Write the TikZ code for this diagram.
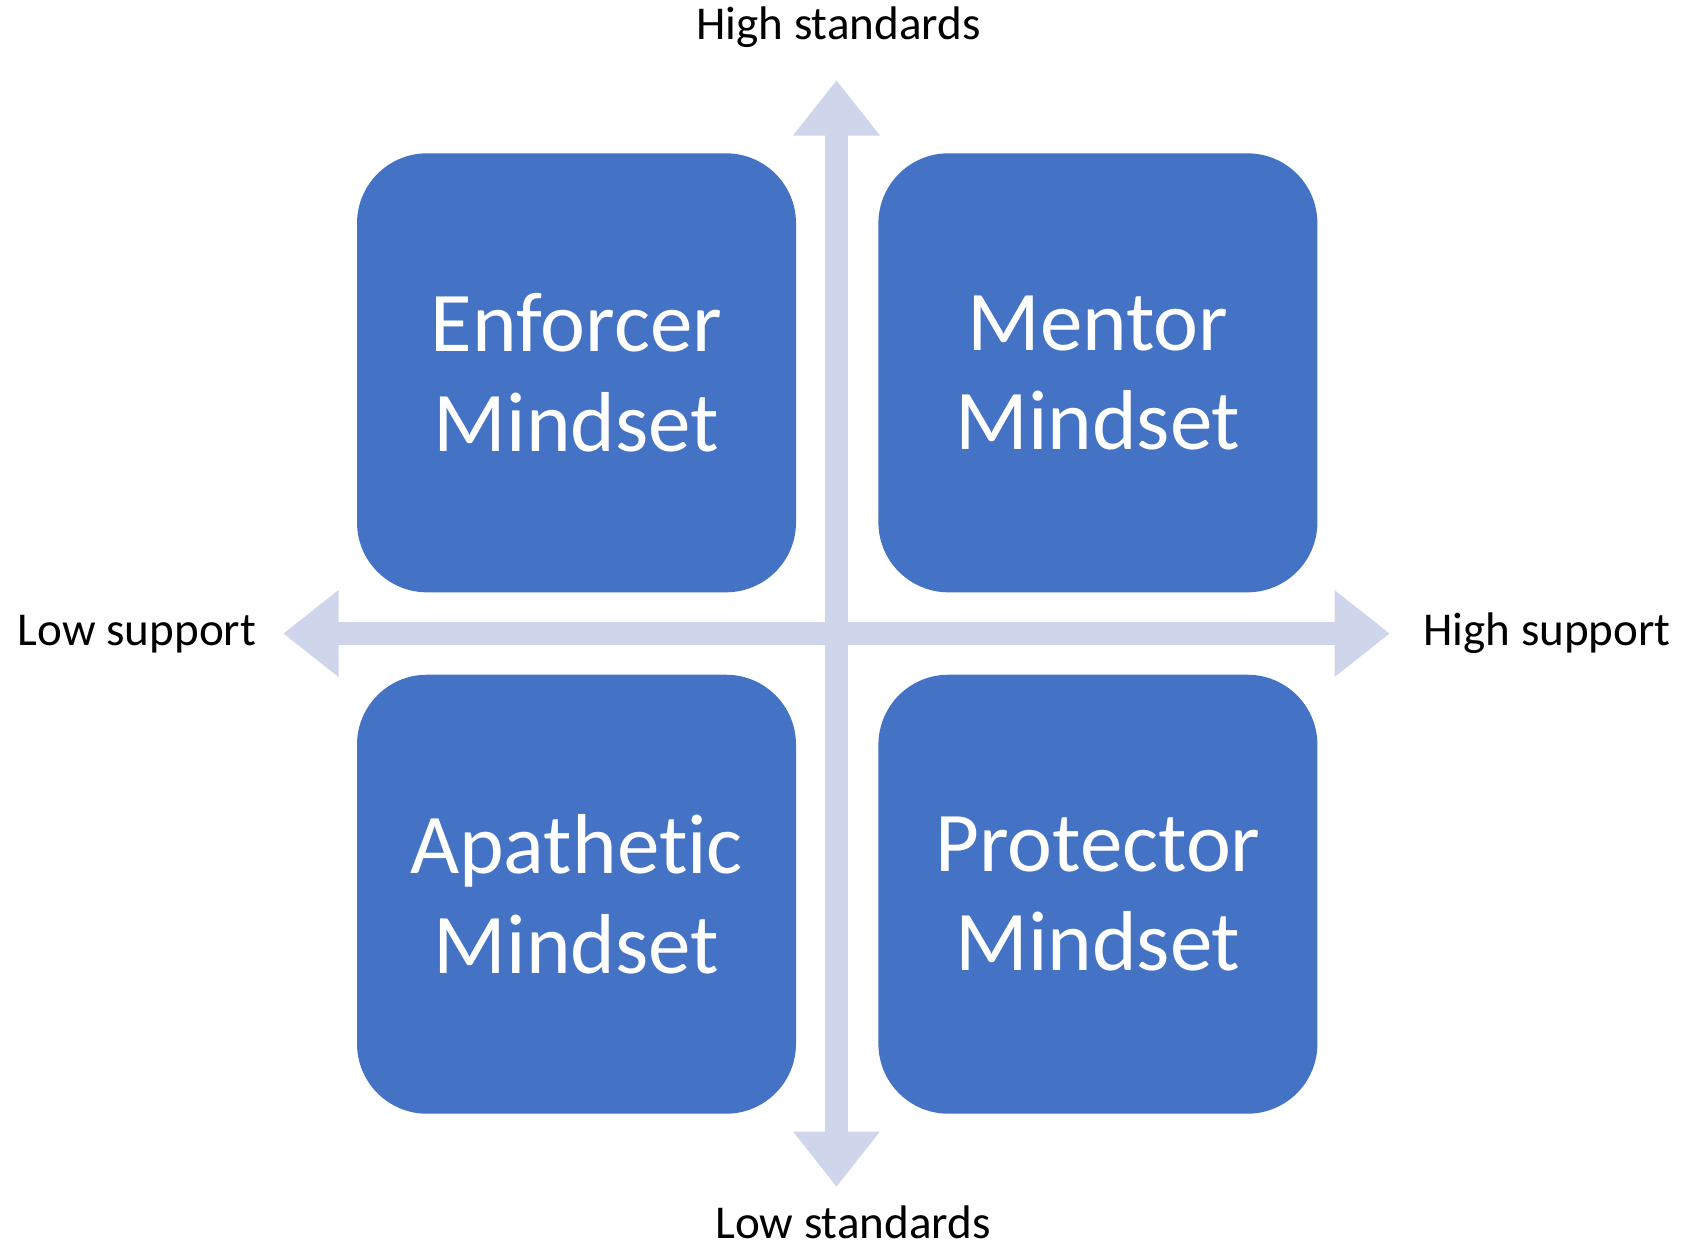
\documentclass[tikz,border=0pt]{standalone}
\usepackage{fontspec}
\setmainfont{Carlito}[Ligatures=NoCommon]
\usepackage{xcolor}
\usetikzlibrary{positioning}

\definecolor{boxblue}{HTML}{4472C4}
\definecolor{axisgray}{HTML}{CFD5EA}

\begin{document}
\begin{tikzpicture}[
    node distance=0.81cm and 0.81cm,
    mindset/.style={rectangle, fill=boxblue, text=white, minimum size=4.39cm, inner sep=0pt, rounded corners=0.7cm, align=center, font=\fontsize{24.2}{28.3}\selectfont},
    axis/.style={fill=axisgray},
    axlabel/.style={anchor=base, inner sep=0pt, font=\fontsize{13.4}{16}\selectfont},
]
\useasboundingbox (0,0) rectangle (16.86,-12.49);

% Axes
\coordinate (c) at (8.365,-6.335);
\foreach \a in {0,90}
  \fill[axis, shift={(c)}, rotate=\a] (0,5.53) -- (0.435,4.98) -- (0.113,4.98) -- (0.113,-4.98) -- (0.435,-4.98)
    -- (0,-5.53) -- (-0.435,-4.98) -- (-0.113,-4.98) -- (-0.113,4.98) -- (-0.435,4.98) -- cycle;

% Quadrants
\node[mindset] (enforcer) at (5.765,-3.728) {Enforcer\\Mindset};
\node[mindset, right=of enforcer] (mentor) {Mentor\\Mindset};
\node[mindset, below=of enforcer] (apathetic) {Apathetic\\Mindset};
\node[mindset, below=of mentor] (protector) {Protector\\Mindset};

% Axis labels
\node[axlabel] (hstd) at (8.385,-0.393) {High standards};
\node[axlabel] (lstd) at (8.53,-12.38) {Low standards};
\node[axlabel] (lsup) at (1.37,-6.45) {Low support};
\node[axlabel] (hsup) at (15.47,-6.45) {High support};

\end{tikzpicture}
\end{document}
